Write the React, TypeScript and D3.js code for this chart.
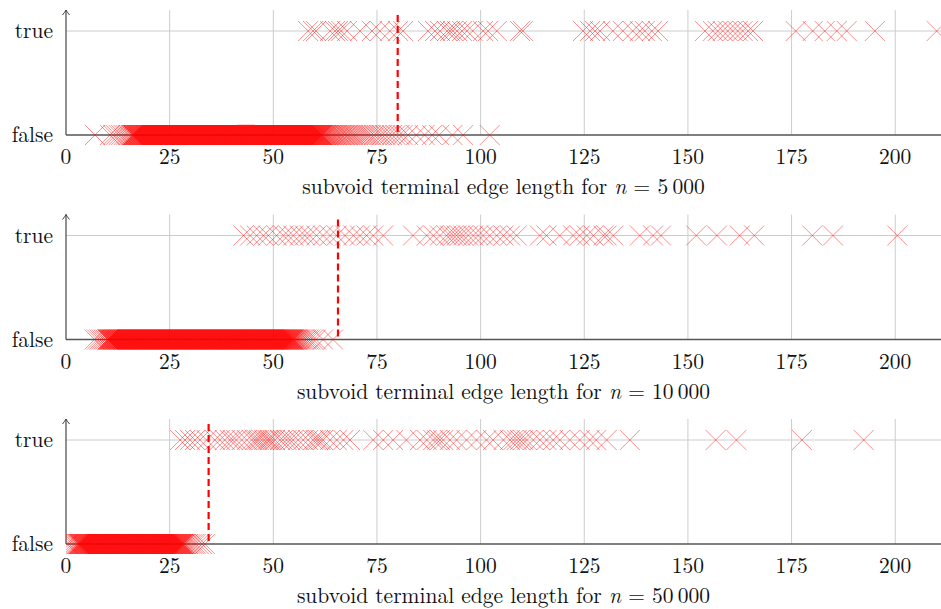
import React from 'react';
import * as d3 from 'd3';

const xTicks = [0, 25, 50, 75, 100, 125, 150, 175, 200];
const yCats = ['false', 'true'];
const nLabels = ['5\u2009000', '10\u2009000', '50\u2009000'];
const thresholds = [80.0, 65.6, 34.4];

const true5k = [58.4, 59.6, 60.3, 63.7, 64.9, 65.6, 66.4, 67.8, 70.9, 73.8, 75.7, 78.1, 80.1, 81.3,
  87.3, 89.0, 90.2, 91.9, 92.6, 93.3, 94.3, 95.5, 96.7, 98.1, 100.6, 101.8, 103.9, 109.5, 110.2,
  124.7, 126.4, 127.6, 128.8, 131.9, 134.3, 136.7, 138.4, 139.6, 141.3, 142.8,
  154.1, 156.0, 157.2, 158.4, 159.6, 160.8, 162.0, 163.2, 164.5, 165.7,
  176.0, 180.1, 183.0, 185.9, 188.3, 195.1, 210.0];

const false5k = [7.0, 10.6, 11.4, 12.0, 12.7, 13.3, 13.9, 14.4, 14.9, 15.3, 15.7,
  16, 16.1, 16.2, 16.3, 16.4, 16.5, 16.6, 16.7, 16.8, 16.9, 17, 17.1, 17.2, 17.3, 17.4, 17.5, 17.6, 17.7, 17.8, 17.9,
  18, 18.1, 18.2, 18.3, 18.4, 18.5, 18.6, 18.7, 18.8, 18.9, 19, 19.1, 19.2, 19.3, 19.4, 19.5, 19.6, 19.7, 19.8, 19.9,
  20, 20.1, 20.2, 20.3, 20.4, 20.5, 20.6, 20.7, 20.8, 20.9, 21, 21.1, 21.2, 21.3, 21.4, 21.5, 21.6, 21.7, 21.8, 21.9,
  22, 22.1, 22.2, 22.3, 22.4, 22.5, 22.6, 22.7, 22.8, 22.9, 23, 23.1, 23.2, 23.3, 23.4, 23.5, 23.6, 23.7, 23.8, 23.9,
  24, 24.1, 24.2, 24.3, 24.4, 24.5, 24.6, 24.7, 24.8, 24.9, 25, 25.1, 25.2, 25.3, 25.4, 25.5, 25.6, 25.7, 25.8, 25.9,
  26, 26.1, 26.2, 26.3, 26.4, 26.5, 26.6, 26.7, 26.8, 26.9, 27, 27.1, 27.2, 27.3, 27.4, 27.5, 27.6, 27.7, 27.8, 27.9,
  28, 28.1, 28.2, 28.3, 28.4, 28.5, 28.6, 28.7, 28.8, 28.9, 29, 29.1, 29.2, 29.3, 29.4, 29.5, 29.6, 29.7, 29.8, 29.9,
  30, 30.1, 30.2, 30.3, 30.4, 30.5, 30.6, 30.7, 30.8, 30.9, 31, 31.1, 31.2, 31.3, 31.4, 31.5, 31.6, 31.7, 31.8, 31.9,
  32, 32.1, 32.2, 32.3, 32.4, 32.5, 32.6, 32.7, 32.8, 32.9, 33, 33.1, 33.2, 33.3, 33.4, 33.5, 33.6, 33.7, 33.8, 33.9,
  34, 34.1, 34.2, 34.3, 34.4, 34.5, 34.6, 34.7, 34.8, 34.9, 35, 35.1, 35.2, 35.3, 35.4, 35.5, 35.6, 35.7, 35.8, 35.9,
  36, 36.1, 36.2, 36.3, 36.4, 36.5, 36.6, 36.7, 36.8, 36.9, 37, 37.1, 37.2, 37.3, 37.4, 37.5, 37.6, 37.7, 37.8, 37.9,
  38, 38.1, 38.2, 38.3, 38.4, 38.5, 38.6, 38.7, 38.8, 38.9, 39, 39.1, 39.2, 39.3, 39.4, 39.5, 39.6, 39.7, 39.8, 39.9,
  40, 40.1, 40.2, 40.3, 40.4, 40.5, 40.6, 40.7, 40.8, 40.9, 41, 41.1, 41.2, 41.3, 41.4, 41.5, 41.6, 41.7, 41.8, 41.9,
  42, 42.1, 42.2, 42.3, 42.4, 42.5, 42.6, 42.7, 42.8, 42.9, 43, 43.1, 43.2, 43.3, 43.4, 43.5, 43.6, 43.7, 43.8, 43.9,
  44, 44.1, 44.2, 44.3, 44.4, 44.5, 44.6, 44.7, 44.8, 44.9, 45, 45.1, 45.2, 45.3, 45.4, 45.5, 45.6, 45.7, 45.8, 45.9,
  46, 46.1, 46.2, 46.3, 46.4, 46.5, 46.6, 46.7, 46.8, 46.9, 47, 47.1, 47.2, 47.3, 47.4, 47.5, 47.6, 47.7, 47.8, 47.9,
  48, 48.1, 48.2, 48.3, 48.4, 48.5, 48.6, 48.7, 48.8, 48.9, 49, 49.1, 49.2, 49.3, 49.4, 49.5, 49.6, 49.7, 49.8, 49.9,
  50, 50.1, 50.2, 50.3, 50.4, 50.5, 50.6, 50.7, 50.8, 50.9, 51, 51.1, 51.2, 51.3, 51.4, 51.5, 51.6, 51.7, 51.8, 51.9,
  52, 52.1, 52.2, 52.3, 52.4, 52.5, 52.6, 52.7, 52.8, 52.9, 53, 53.1, 53.2, 53.3, 53.4, 53.5, 53.6, 53.7, 53.8, 53.9,
  54, 54.1, 54.2, 54.3, 54.4, 54.5, 54.6, 54.7, 54.8, 54.9, 55, 55.1, 55.2, 55.3, 55.4, 55.5, 55.6, 55.7, 55.8, 55.9,
  56, 56.1, 56.2, 56.3, 56.4, 56.5, 56.6, 56.7, 56.8, 56.9, 57, 57.1, 57.2, 57.3, 57.4, 57.5, 57.6, 57.7, 57.8, 57.9,
  58, 58.1, 58.2, 58.3, 58.4, 58.5, 58.6, 58.7, 58.8, 58.9, 59, 59.1, 59.2, 59.3, 59.4, 59.5, 59.6, 59.7, 59.8, 59.9,
  60, 60.1, 60.2, 60.3, 60.4, 60.5, 60.6, 60.7, 60.8, 60.9, 61, 61.1, 61.2, 61.3, 61.4, 61.5, 61.6, 61.7, 61.8, 61.9,
  62.1, 62.3, 62.5, 62.7, 62.9, 63.1, 63.3, 63.5, 63.8, 64.0, 64.3, 64.5, 64.8, 65.1, 65.4, 65.7, 66.0, 66.3, 66.6,
  67.0, 67.3, 67.7, 68.0, 68.4, 68.8, 69.2, 69.6, 70.0, 70.5, 71.0, 71.5, 72.0, 72.5, 73.0, 73.6,
  74.3, 74.9, 75.6, 76.2, 77.0, 77.8, 78.6, 79.5, 80.4, 81.2,
  82.5, 84.5, 86.5, 88.3, 90.0, 93.2, 95.8, 102.2];

const true10k = [42.8, 44.4, 46.0, 47.6, 48.8, 50.8, 52.4, 53.6, 54.8, 56.4, 57.6, 58.8, 60.4, 62.0,
  63.7, 65.3, 67.3, 69.3, 70.9, 72.5, 74.1, 76.5, 83.7, 87.0, 88.6, 90.2, 91.8, 92.6, 93.4, 94.2,
  95.0, 95.8, 97.0, 98.2, 99.4, 100.6, 102.2, 103.9, 105.5, 107.1, 108.7,
  114.3, 115.9, 119.1, 122.3, 123.9, 125.6, 127.2, 129.6, 130.4, 132.0, 138.4, 141.6, 143.5,
  152.0, 157.0, 162.5, 166.0, 180.0, 185.0, 200.5];

const false10k = [6.9, 7.5, 8.1, 8.6, 9.1, 9.5,
  10, 10.1, 10.2, 10.3, 10.4, 10.5, 10.6, 10.7, 10.8, 10.9, 11, 11.1, 11.2, 11.3, 11.4, 11.5, 11.6, 11.7, 11.8, 11.9,
  12, 12.1, 12.2, 12.3, 12.4, 12.5, 12.6, 12.7, 12.8, 12.9, 13, 13.1, 13.2, 13.3, 13.4, 13.5, 13.6, 13.7, 13.8, 13.9,
  14, 14.1, 14.2, 14.3, 14.4, 14.5, 14.6, 14.7, 14.8, 14.9, 15, 15.1, 15.2, 15.3, 15.4, 15.5, 15.6, 15.7, 15.8, 15.9,
  16, 16.1, 16.2, 16.3, 16.4, 16.5, 16.6, 16.7, 16.8, 16.9, 17, 17.1, 17.2, 17.3, 17.4, 17.5, 17.6, 17.7, 17.8, 17.9,
  18, 18.1, 18.2, 18.3, 18.4, 18.5, 18.6, 18.7, 18.8, 18.9, 19, 19.1, 19.2, 19.3, 19.4, 19.5, 19.6, 19.7, 19.8, 19.9,
  20, 20.1, 20.2, 20.3, 20.4, 20.5, 20.6, 20.7, 20.8, 20.9, 21, 21.1, 21.2, 21.3, 21.4, 21.5, 21.6, 21.7, 21.8, 21.9,
  22, 22.1, 22.2, 22.3, 22.4, 22.5, 22.6, 22.7, 22.8, 22.9, 23, 23.1, 23.2, 23.3, 23.4, 23.5, 23.6, 23.7, 23.8, 23.9,
  24, 24.1, 24.2, 24.3, 24.4, 24.5, 24.6, 24.7, 24.8, 24.9, 25, 25.1, 25.2, 25.3, 25.4, 25.5, 25.6, 25.7, 25.8, 25.9,
  26, 26.1, 26.2, 26.3, 26.4, 26.5, 26.6, 26.7, 26.8, 26.9, 27, 27.1, 27.2, 27.3, 27.4, 27.5, 27.6, 27.7, 27.8, 27.9,
  28, 28.1, 28.2, 28.3, 28.4, 28.5, 28.6, 28.7, 28.8, 28.9, 29, 29.1, 29.2, 29.3, 29.4, 29.5, 29.6, 29.7, 29.8, 29.9,
  30, 30.1, 30.2, 30.3, 30.4, 30.5, 30.6, 30.7, 30.8, 30.9, 31, 31.1, 31.2, 31.3, 31.4, 31.5, 31.6, 31.7, 31.8, 31.9,
  32, 32.1, 32.2, 32.3, 32.4, 32.5, 32.6, 32.7, 32.8, 32.9, 33, 33.1, 33.2, 33.3, 33.4, 33.5, 33.6, 33.7, 33.8, 33.9,
  34, 34.1, 34.2, 34.3, 34.4, 34.5, 34.6, 34.7, 34.8, 34.9, 35, 35.1, 35.2, 35.3, 35.4, 35.5, 35.6, 35.7, 35.8, 35.9,
  36, 36.1, 36.2, 36.3, 36.4, 36.5, 36.6, 36.7, 36.8, 36.9, 37, 37.1, 37.2, 37.3, 37.4, 37.5, 37.6, 37.7, 37.8, 37.9,
  38, 38.1, 38.2, 38.3, 38.4, 38.5, 38.6, 38.7, 38.8, 38.9, 39, 39.1, 39.2, 39.3, 39.4, 39.5, 39.6, 39.7, 39.8, 39.9,
  40, 40.1, 40.2, 40.3, 40.4, 40.5, 40.6, 40.7, 40.8, 40.9, 41, 41.1, 41.2, 41.3, 41.4, 41.5, 41.6, 41.7, 41.8, 41.9,
  42, 42.1, 42.2, 42.3, 42.4, 42.5, 42.6, 42.7, 42.8, 42.9, 43, 43.1, 43.2, 43.3, 43.4, 43.5, 43.6, 43.7, 43.8, 43.9,
  44, 44.1, 44.2, 44.3, 44.4, 44.5, 44.6, 44.7, 44.8, 44.9, 45, 45.1, 45.2, 45.3, 45.4, 45.5, 45.6, 45.7, 45.8, 45.9,
  46, 46.1, 46.2, 46.3, 46.4, 46.5, 46.6, 46.7, 46.8, 46.9, 47, 47.1, 47.2, 47.3, 47.4, 47.5, 47.6, 47.7, 47.8, 47.9,
  48, 48.1, 48.2, 48.3, 48.4, 48.5, 48.6, 48.7, 48.8, 48.9, 49, 49.1, 49.2, 49.3, 49.4, 49.5, 49.6, 49.7, 49.8, 49.9,
  50, 50.1, 50.2, 50.3, 50.4, 50.5, 50.6, 50.7, 50.8, 50.9, 51, 51.1, 51.2, 51.3, 51.4, 51.5, 51.6, 51.7, 51.8, 51.9,
  52, 52.1, 52.2, 52.3, 52.4, 52.5, 52.6, 52.7, 52.8, 52.9, 53, 53.1, 53.2, 53.3, 53.4, 53.5, 53.6, 53.7, 53.8, 53.9,
  54, 54.1, 54.2, 54.3, 54.4, 54.5, 54.6, 54.7, 54.8, 54.9, 55, 55.2, 55.4, 55.6, 55.8,
  56.0, 56.3, 56.6, 56.9, 57.2, 57.6, 58.0, 58.5, 59.0, 59.6, 60.3, 62.0, 64.4];

const true50k = [27.5, 28.7, 29.9, 31.1, 32.3, 33.9, 35.9, 37.1, 38.3, 39.5, 40.2, 41.1, 42.4, 43.6,
  44.8, 45.5, 46.0, 46.5, 47.2, 47.8, 48.4, 48.8, 49.2, 49.8, 50.4, 51.6, 52.3, 53.2, 54.0, 54.8,
  56.0, 57.2, 58.4, 59.6, 60.2, 60.8, 61.4, 62.0, 63.7, 65.3, 66.9, 68.5,
  74.1, 76.5, 78.9, 82.1, 85.4, 87.0, 88.6, 89.4, 90.2, 91.0, 92.6, 94.2, 96.6, 99.0, 101.4,
  103.0, 105.5, 107.1, 107.9, 108.7, 109.5, 110.3, 111.1, 112.7, 114.3, 115.9, 117.5, 119.1,
  121.5, 123.9, 126.3, 127.9, 130.4, 136.0, 156.7, 161.7, 177.5, 192.4];

const false50k = [0.3, 0.8, 1.4, 1.9, 2.3, 2.6, 2.8,
  3, 3.1, 3.2, 3.3, 3.4, 3.5, 3.6, 3.7, 3.8, 3.9, 4, 4.1, 4.2, 4.3, 4.4, 4.5, 4.6, 4.7, 4.8, 4.9,
  5, 5.1, 5.2, 5.3, 5.4, 5.5, 5.6, 5.7, 5.8, 5.9, 6, 6.1, 6.2, 6.3, 6.4, 6.5, 6.6, 6.7, 6.8, 6.9,
  7, 7.1, 7.2, 7.3, 7.4, 7.5, 7.6, 7.7, 7.8, 7.9, 8, 8.1, 8.2, 8.3, 8.4, 8.5, 8.6, 8.7, 8.8, 8.9,
  9, 9.1, 9.2, 9.3, 9.4, 9.5, 9.6, 9.7, 9.8, 9.9, 10, 10.1, 10.2, 10.3, 10.4, 10.5, 10.6, 10.7, 10.8, 10.9,
  11, 11.1, 11.2, 11.3, 11.4, 11.5, 11.6, 11.7, 11.8, 11.9, 12, 12.1, 12.2, 12.3, 12.4, 12.5, 12.6, 12.7, 12.8, 12.9,
  13, 13.1, 13.2, 13.3, 13.4, 13.5, 13.6, 13.7, 13.8, 13.9, 14, 14.1, 14.2, 14.3, 14.4, 14.5, 14.6, 14.7, 14.8, 14.9,
  15, 15.1, 15.2, 15.3, 15.4, 15.5, 15.6, 15.7, 15.8, 15.9, 16, 16.1, 16.2, 16.3, 16.4, 16.5, 16.6, 16.7, 16.8, 16.9,
  17, 17.1, 17.2, 17.3, 17.4, 17.5, 17.6, 17.7, 17.8, 17.9, 18, 18.1, 18.2, 18.3, 18.4, 18.5, 18.6, 18.7, 18.8, 18.9,
  19, 19.1, 19.2, 19.3, 19.4, 19.5, 19.6, 19.7, 19.8, 19.9, 20, 20.1, 20.2, 20.3, 20.4, 20.5, 20.6, 20.7, 20.8, 20.9,
  21, 21.1, 21.2, 21.3, 21.4, 21.5, 21.6, 21.7, 21.8, 21.9, 22, 22.1, 22.2, 22.3, 22.4, 22.5, 22.6, 22.7, 22.8, 22.9,
  23, 23.1, 23.2, 23.3, 23.4, 23.5, 23.6, 23.7, 23.8, 23.9, 24, 24.1, 24.2, 24.3, 24.4, 24.5, 24.6, 24.7, 24.8, 24.9,
  25, 25.1, 25.2, 25.3, 25.4, 25.5, 25.6, 25.7, 25.8, 25.9, 26, 26.1, 26.2, 26.3, 26.4, 26.5, 26.6, 26.7, 26.8, 26.9,
  27, 27.1, 27.2, 27.3, 27.4, 27.5, 27.6, 27.7, 27.8, 27.9, 28, 28.1, 28.2, 28.3, 28.5, 28.7,
  29.0, 29.4, 29.8, 30.3, 30.8, 31.3, 32.0, 32.8, 33.5];

const trueSeries = [true5k, true10k, true50k];
const falseSeries = [false5k, false10k, false50k];

const W = 941;
const H = 609;
const PANEL_STEP = 204.5;
const X0 = 66;
const X1 = 940;
const XMAX = 210.8;
const FS = 21.5;
const textStyle = { fontFamily: 'Latin Modern Roman' };

function cross(cx: number, cy: number, r: number) {
  return `M${cx - r},${cy - r}L${cx + r},${cy + r}M${cx - r},${cy + r}L${cx + r},${cy - r}`;
}

export default function App() {
  const x = d3.scaleLinear().domain([0, XMAX]).range([X0, X1]);
  return (
    <svg width={W} height={H} style={{ position: 'absolute', left: 0, top: 0, background: '#fff' }}>
      <defs>
        {nLabels.map((_, i) => (
          <clipPath id={`clip${i}`} key={i}>
            <rect x={X0} y={i * PANEL_STEP} width={W - X0} height={PANEL_STEP} />
          </clipPath>
        ))}
      </defs>
      {nLabels.map((nl, i) => {
        const off = i * PANEL_STEP;
        const y = d3.scalePoint<string>().domain(yCats).range([135 + off, 31 + off]);
        const yF = y('false') as number;
        const yT = y('true') as number;
        const top = 10 + off;
        const thx = x(thresholds[i]);
        return (
          <g key={i}>
            {xTicks.filter((t) => t > 0).map((t) => (
              <line key={t} x1={x(t)} x2={x(t)} y1={top} y2={yF} stroke="#cccccc" strokeWidth={1} />
            ))}
            <line x1={X0} x2={W} y1={yT} y2={yT} stroke="#cccccc" strokeWidth={1} />
            <line x1={X0} x2={W} y1={yF} y2={yF} stroke="#555" strokeWidth={1.3} />
            <line x1={X0} x2={X0} y1={yF} y2={top} stroke="#555" strokeWidth={1.3} />
            <path d={`M${X0 - 3.5},${top + 5} Q${X0 - 1},${top + 2} ${X0},${top} Q${X0 + 1},${top + 2} ${X0 + 3.5},${top + 5}`} fill="none" stroke="#444" strokeWidth={1} />
            <g clipPath={`url(#clip${i})`} stroke="#ff0000" strokeOpacity={0.5} strokeWidth={0.9} fill="none">
              {falseSeries[i].map((v, j) => (
                <path key={'f' + j} d={cross(x(v), yF, 10)} />
              ))}
              {trueSeries[i].map((v, j) => (
                <path key={'t' + j} d={cross(x(v), yT, 10)} />
              ))}
            </g>
            <line x1={thx} x2={thx} y1={yT - 16} y2={yF} stroke="#ff0000" strokeWidth={2.2} strokeDasharray="7 4" />
            {yCats.map((c) => (
              <text key={c} x={53} y={(y(c) as number) + 7} textAnchor="end" fontSize={FS} fill="#111" style={textStyle}>{c}</text>
            ))}
            {xTicks.map((t) => (
              <text key={t} x={x(t)} y={yF + 29} textAnchor="middle" fontSize={FS} fill="#111" style={textStyle}>{t}</text>
            ))}
            <text x={(X0 + W) / 2} y={yF + 59} textAnchor="middle" fontSize={FS} fill="#111" style={textStyle}>
              subvoid terminal edge length for <tspan fontStyle="italic">n</tspan> = {nl}
            </text>
          </g>
        );
      })}
    </svg>
  );
}
